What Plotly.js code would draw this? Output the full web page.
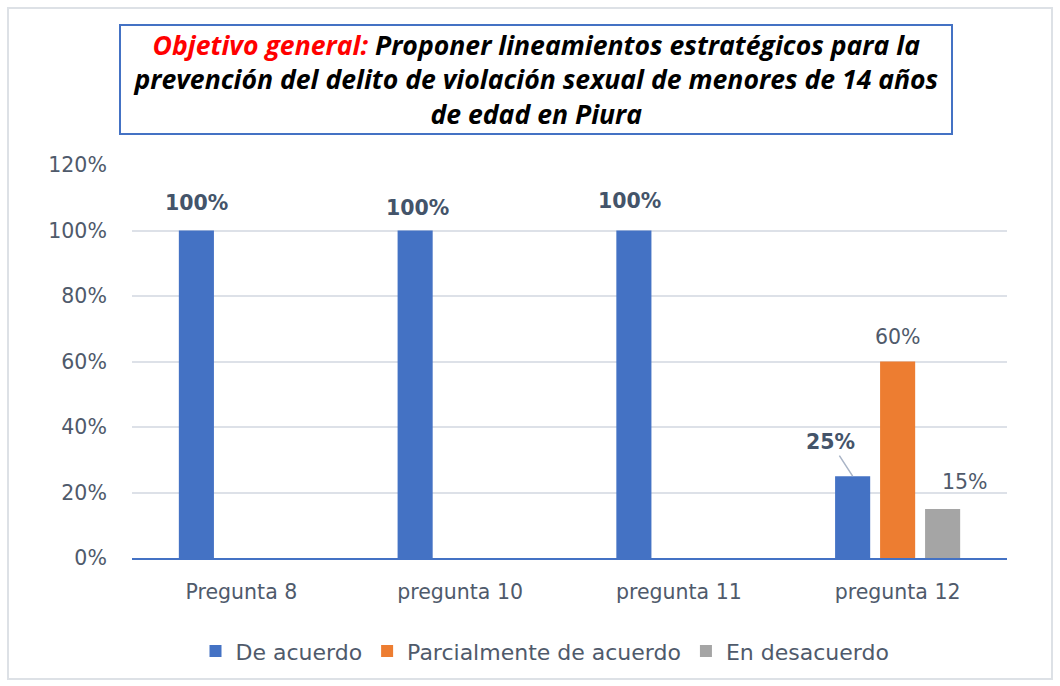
<!DOCTYPE html>
<html><head><meta charset="utf-8">
<script src="https://cdn.plot.ly/plotly-3.0.1.min.js"></script>
<style>
body{margin:0;background:#fff;}
#frame{position:absolute;left:7px;top:7px;width:1042px;height:669px;border:2px solid #DDE1E6;pointer-events:none;z-index:5;}
#chart{position:absolute;left:0;top:0;width:1060px;height:686px;}
</style></head>
<body>
<div id="chart"></div><div id="frame"></div>
<script>
const categories = ['Pregunta 8', 'pregunta 10', 'pregunta 11', 'pregunta 12'];
const deAcuerdo = [1.00, 1.00, 1.00, 0.25];
const parcialmente = [null, null, null, 0.60];
const desacuerdo = [null, null, null, 0.15];
const seriesNames = ['De acuerdo', 'Parcialmente de acuerdo', 'En desacuerdo'];
const yTicks = [0, 0.2, 0.4, 0.6, 0.8, 1.0, 1.2];

const FONT = 'DejaVu Sans, sans-serif';
const FS = 20.5;
const labelColor = '#44546A';
const tickColor = '#4F5A6B';

const traces = [
  {type:'bar', name:seriesNames[0], x:categories, y:deAcuerdo, marker:{color:'#4472C4'}, hoverinfo:'skip'},
  {type:'bar', name:seriesNames[1], x:categories, y:parcialmente, marker:{color:'#ED7D31'}, hoverinfo:'skip'},
  {type:'bar', name:seriesNames[2], x:categories, y:desacuerdo, marker:{color:'#A5A5A5'}, hoverinfo:'skip'}
];

const pct = v => Math.round(v*100) + '%';
const annotations = [];
const blueYShift = [28, 23, 30];
const blueXShift = [-45, -43, -49];
for (let i = 0; i < 3; i++) {
  annotations.push({xref:'x', yref:'y', x:categories[i], y:deAcuerdo[i], xshift:blueXShift[i], yshift:blueYShift[i],
    text:'<b>'+pct(deAcuerdo[i])+'</b>', showarrow:false, font:{family:FONT, size:FS, color:labelColor}});
}
annotations.push({xref:'x', yref:'y', x:categories[3], y:deAcuerdo[3], xshift:-45, yshift:0,
  text:'<b>'+pct(deAcuerdo[3])+'</b>', showarrow:true, arrowhead:0, arrowwidth:1.5, arrowcolor:'#A9B4C6',
  ax:-22, ay:-34, font:{family:FONT, size:FS, color:labelColor}, standoff:0});
annotations.push({xref:'x', yref:'y', x:categories[3], y:parcialmente[3], xshift:0, yshift:25,
  text:pct(parcialmente[3]), showarrow:false, font:{family:FONT, size:FS, color:tickColor}});
annotations.push({xref:'x', yref:'y', x:categories[3], y:desacuerdo[3], xshift:67, yshift:27,
  text:pct(desacuerdo[3]), showarrow:false, font:{family:FONT, size:FS, color:tickColor}});
annotations.push({xref:'paper', yref:'paper', x:0.4617, y:1.2176, xanchor:'center', yanchor:'middle',
  text:'<span style="color:#FF0000">Objetivo general:</span> Proponer lineamientos estratégicos para la<br>prevención del delito de violación sexual de menores de 14 años<br>de edad en Piura',
  showarrow:false, align:'center', width:828, height:105, valign:'middle',
  bordercolor:'#4472C4', borderwidth:2, borderpad:1, bgcolor:'#ffffff',
  font:{family:'Open Sans, sans-serif', size:26.6, color:'#000000', weight:'bold', style:'italic'}});

const layout = {
  width:1060, height:686,
  margin:{l:132, r:53, t:165, b:128},
  paper_bgcolor:'#ffffff', plot_bgcolor:'#ffffff',
  barmode:'group', bargap:0.383, bargroupgap:0.22,
  font:{family:FONT, color:tickColor, size:FS},
  xaxis:{type:'category', showline:true, linecolor:'#4472C4', linewidth:2, showgrid:false, zeroline:false,
    ticks:'outside', ticklen:14, tickcolor:'rgba(0,0,0,0)', tickfont:{family:FONT, size:FS, color:tickColor}, fixedrange:true},
  yaxis:{range:[0,1.2], tickvals:yTicks, tickformat:'.0%', showgrid:true, gridcolor:'#DDE1E8', gridwidth:2,
    zeroline:false, showline:false, ticks:'outside', ticklen:20, tickcolor:'rgba(0,0,0,0)',
    tickfont:{family:FONT, size:FS, color:tickColor}, fixedrange:true},
  legend:{orientation:'h', x:0.472, xanchor:'center', y:-0.237, yanchor:'middle',
    font:{family:FONT, size:22, color:tickColor}, itemclick:false, traceorder:'normal'},
  annotations:annotations,
  showlegend:true
};
Plotly.newPlot('chart', traces, layout, {displayModeBar:false, staticPlot:true});
</script>
</body></html>
